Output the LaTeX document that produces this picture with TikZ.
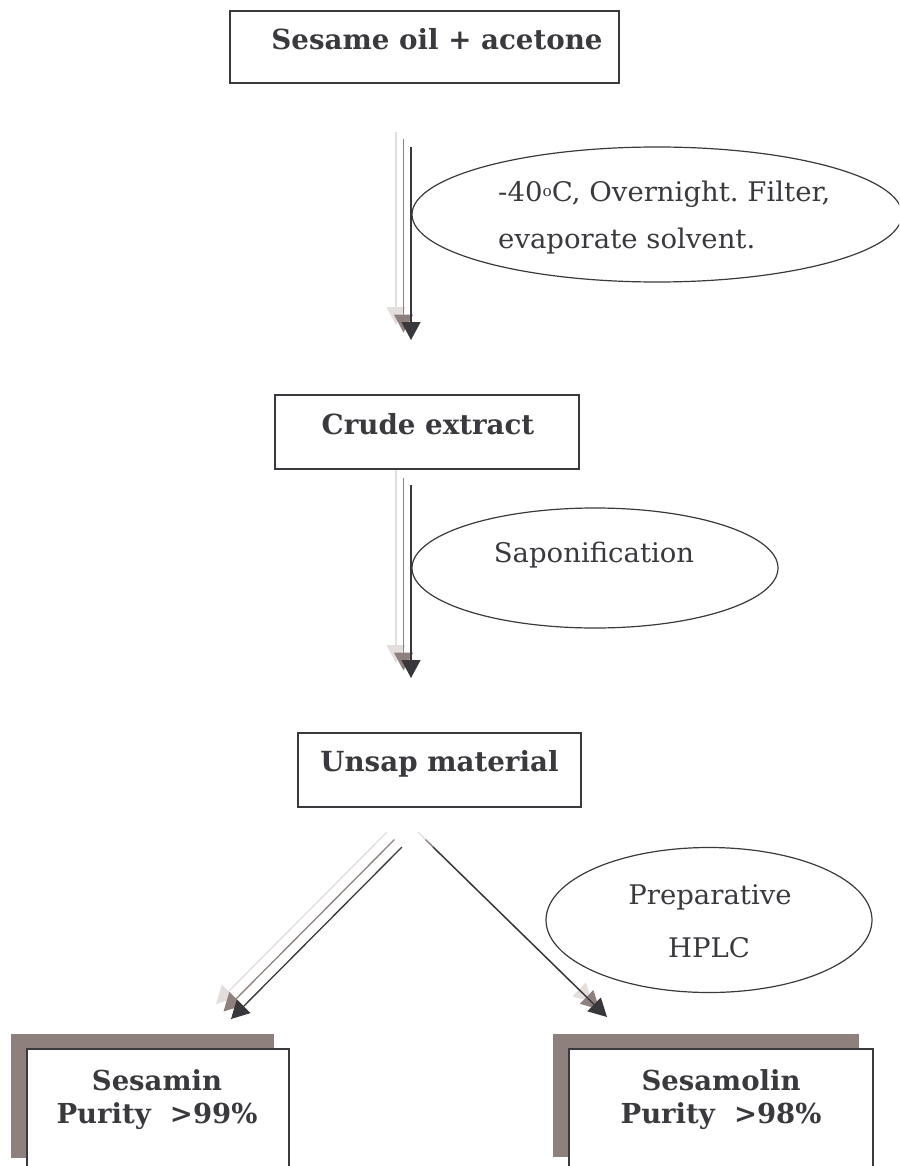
\documentclass[tikz,border=0pt]{standalone}
\usepackage{fontspec}
\setmainfont{DejaVu Serif}
\newfontfamily\regf[FakeStretch=1.02]{DejaVu Serif}
\usetikzlibrary{arrows.meta,shapes.geometric,calc}
\definecolor{ink}{HTML}{3A393E}
\definecolor{arrD}{HTML}{38373C}
\definecolor{arrM}{HTML}{8E817D}
\definecolor{arrL}{HTML}{E3DEDC}
\definecolor{shade}{HTML}{8E817D}
\frenchspacing
\begin{document}
\begin{tikzpicture}[x=1pt,y=-1pt,
 boxnode/.style={draw=ink, line width=1.3pt, fill=white, rectangle, inner sep=0pt},
 shadenode/.style={fill=shade, rectangle, inner sep=0pt},
 ellnode/.style={draw=ink, line width=1.2pt, ellipse, inner sep=0pt},
 btxt/.style={text=ink, font=\fontsize{27.7}{33}\selectfont\bfseries, anchor=base, inner sep=0pt},
 bstxt/.style={text=ink, font=\fontsize{27.5}{33}\selectfont\bfseries, anchor=base, inner sep=0pt},
 rtxt/.style={text=ink, font=\regf\fontsize{27}{46}\selectfont, inner sep=0pt},
 flow/.style={line width=1.3pt, -{Triangle[length=18pt,width=19pt]}},
]
\clip (0,0) rectangle (899,1166);
\fill[white] (0,0) rectangle (899,1166);

% boxes
\node[boxnode, minimum width=389pt, minimum height=72pt] (box1) at (424.5,47) {};
\node[boxnode, minimum width=304pt, minimum height=74pt] (box2) at (427,432) {};
\node[boxnode, minimum width=283pt, minimum height=74pt] (box3) at (439.5,770) {};
\node[shadenode, minimum width=263pt, minimum height=124pt] (sh4) at (142.5,1096) {};
\node[boxnode, minimum width=262pt, minimum height=141pt] (box4) at (158,1119.5) {};
\node[shadenode, minimum width=306pt, minimum height=123pt] (sh5) at (706,1095.5) {};
\node[boxnode, minimum width=304pt, minimum height=141pt] (box5) at (721,1119.5) {};

% ellipses
\node[ellnode, minimum width=490pt, minimum height=135pt] (ell1) at (657,214.5) {};
\node[ellnode, minimum width=366pt, minimum height=120pt] (ell2) at (595,568) {};
\node[ellnode, minimum width=326pt, minimum height=145pt] (ell3) at (709,920) {};

% texts
\node[btxt] (t1) at (437,50) {Sesame oil + acetone};
\node[btxt] (t2) at (428,434) {Crude extract};
\node[btxt] (t3) at (439.5,771) {Unsap material};
\node[bstxt] (t4a) at (157,1090) {Sesamin};
\node[bstxt] (t4b) at (157,1123) {Purity\ \ >99\%};
\node[bstxt] (t5a) at (721,1090) {Sesamolin};
\node[bstxt] (t5b) at (721,1123) {Purity\ \ >98\%};
\node[rtxt, anchor=base west] (e1a) at (498,202) {-40\raisebox{5pt}{\fontsize{15}{15}\selectfont o}C, Overnight. Filter,};
\node[rtxt, anchor=base west] (e1b) at (498,248) {evaporate solvent.};
\node[rtxt, anchor=base] (e2a) at (594,562) {Saponification};
\node[rtxt, anchor=base] (e3a) at (710,904) {Preparative};
\node[rtxt, anchor=base] (e3b) at (709,957) {HPLC};

% arrows
\coordinate (a1s) at (411,147); \coordinate (a1e) at (411,340);
\coordinate (a2s) at (411,485); \coordinate (a2e) at (411,678);
\coordinate (a3s) at (402,847); \coordinate (a3e) at (231,1019);
\coordinate (a4s) at (433,847); \coordinate (a4e) at (607,1017);
\foreach \s/\e in {a1s/a1e,a2s/a2e,a3s/a3e,a4s/a4e}{
  \draw[flow, draw=arrL] ($(\s)+(-15,-15)$) -- ($(\e)+(-15,-15)$);
  \draw[flow, draw=arrM] ($(\s)+(-7.5,-7.5)$) -- ($(\e)+(-7.5,-7.5)$);
  \draw[flow, draw=arrD] (\s) -- (\e);
}
\end{tikzpicture}
\end{document}
